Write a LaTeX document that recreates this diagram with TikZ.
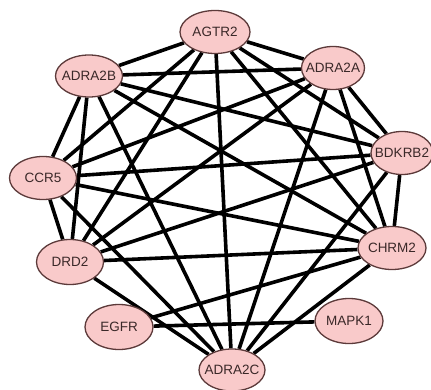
\documentclass[tikz,border=0pt]{standalone}
\usepackage{fontspec}
\setmainfont{Liberation Sans}
\usetikzlibrary{shapes.geometric,backgrounds}

\definecolor{genefill}{RGB}{249,202,202}
\definecolor{genedraw}{RGB}{92,58,58}
\definecolor{genetext}{RGB}{58,40,40}
\newcommand{\gname}[1]{\makebox[0pt]{#1}}

\begin{document}
\begin{tikzpicture} [x = 1pt, y = -1pt,
    gene/.style = {ellipse, draw = genedraw, fill = genefill, line width = 1.3pt,
      inner sep = 0pt, minimum width = 67pt, minimum height = 43pt,
      text = genetext, font = \fontsize{13.5}{15}\selectfont},
    link/.style = {line width = 3.6pt, black}]
      \useasboundingbox (0,0) rectangle (431,390);

      % ノード
      \node [gene, minimum width = 70pt] (agtr) at (215,32) {\gname{AGTR2}};
      \node [gene, minimum width = 63pt] (adraa) at (333,68) {\gname{ADRA2A}};
      \node [gene, minimum height = 42pt] (adrab) at (89,76) {\gname{ADRA2B}};
      \node [gene, minimum width = 62pt] (bdkrb) at (402,153) {\gname{BDKRB2}};
      \node [gene] (ccr) at (43,178) {\gname{CCR5}};
      \node [gene, minimum width = 68pt] (chrm) at (392,248) {\gname{CHRM2}};
      \node [gene, minimum height = 45pt] (drd) at (70,262) {\gname{DRD2}};
      \node [gene, minimum width = 68pt, minimum height = 45pt] (egfr) at (119,327) {\gname{EGFR}};
      \node [gene, minimum width = 68pt, minimum height = 45pt] (mapk) at (349,321) {\gname{MAPK1}};
      \node [gene, minimum width = 66pt, minimum height = 42pt] (adrac) at (232,370) {\gname{ADRA2C}};

      % 辺
      \begin{scope}[on background layer]
        \foreach \a/\b in {agtr/adraa, agtr/adrab, agtr/bdkrb, agtr/ccr, agtr/chrm, agtr/drd, agtr/adrac,
            adraa/adrab, adraa/bdkrb, adraa/ccr, adraa/chrm, adraa/drd, adraa/adrac,
            adrab/bdkrb, adrab/ccr, adrab/chrm, adrab/drd, adrab/adrac,
            bdkrb/ccr, bdkrb/chrm, bdkrb/drd, bdkrb/adrac,
            ccr/chrm, ccr/drd, ccr/adrac,
            chrm/drd, chrm/adrac, chrm/egfr,
            drd/adrac, egfr/mapk}
          \draw [link] (\a) -- (\b);
      \end{scope}
    \end{tikzpicture}
\end{document}
